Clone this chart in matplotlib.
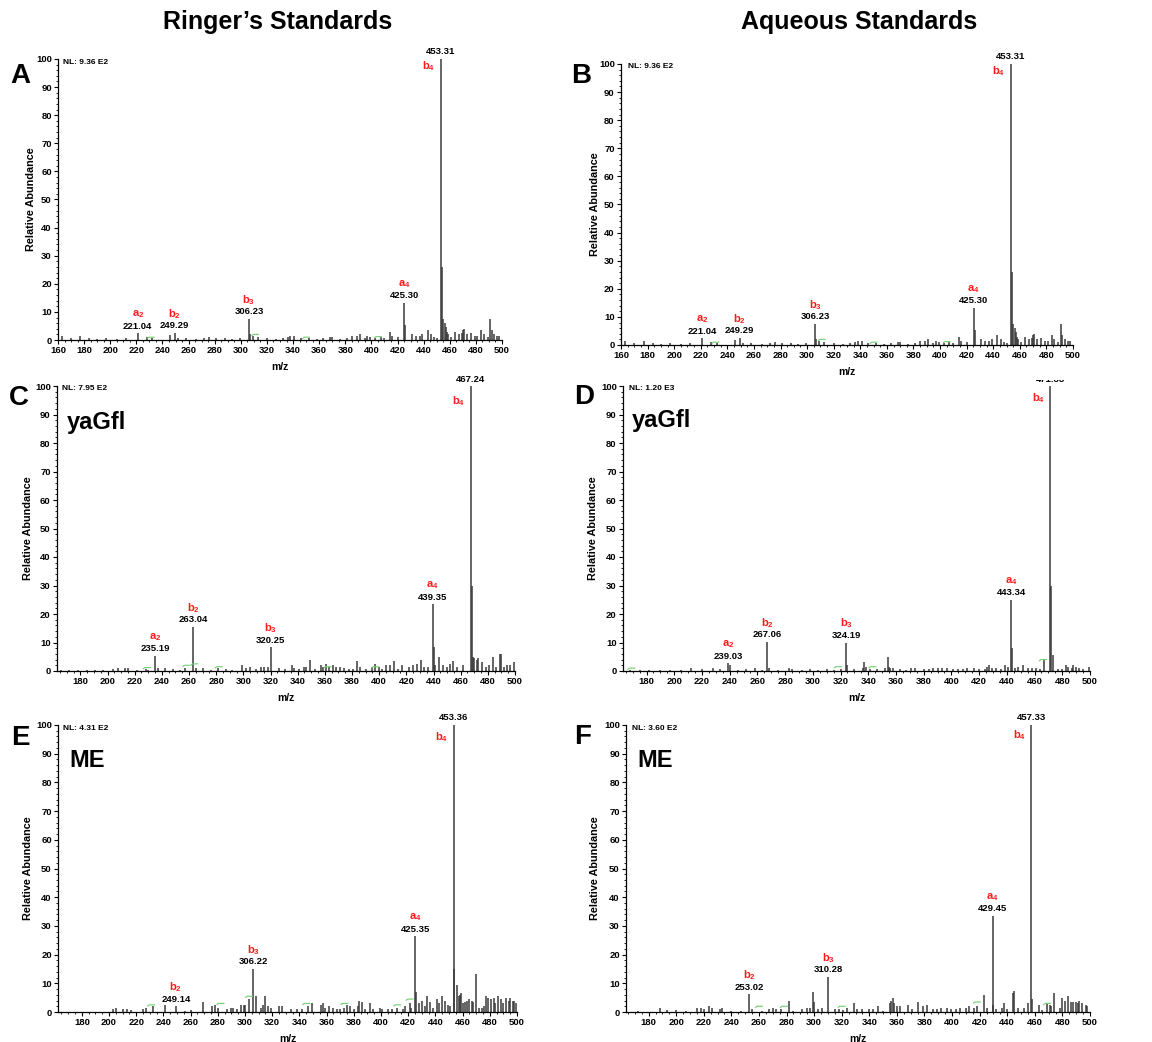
"""Six MS/MS spectra panels (Ringer's vs aqueous standards)."""
import matplotlib
matplotlib.use("Agg")
import matplotlib.pyplot as plt
from matplotlib.ticker import MultipleLocator
from matplotlib.transforms import Bbox

plt.rcParams["font.family"] = ["Liberation Sans", "DejaVu Sans"]
plt.rcParams["font.weight"] = "bold"
plt.rcParams["mathtext.fontset"] = "custom"
plt.rcParams["mathtext.bf"] = "Liberation Sans:bold"
plt.rcParams["mathtext.rm"] = "Liberation Sans:bold"

W, H = 1152, 1042

# ---- spectra (m/z, relative abundance) ------------------------------------
mz_A = [163, 170, 177, 184, 190, 197, 205, 212, 221.04, 228, 232, 246, 249.29, 252, 258, 266, 272, 276,
        281, 288, 293, 299, 306.23, 307, 309, 313, 320, 327, 332, 336, 338, 341, 346, 352, 358, 363,
        368, 370, 376, 381, 385, 389, 391, 395, 397, 399, 403, 407, 410, 414, 416, 420, 425.30, 426,
        431, 434, 437, 439, 443, 446, 448, 450, 453.31, 454, 455, 456, 457, 458, 459, 461, 464, 467,
        469, 470, 471, 473, 476, 479, 481, 484, 486, 489, 491, 492, 494, 496, 498]
int_A = [1.5, 0.6, 1.5, 0.7, 0.5, 0.6, 0.5, 0.6, 2.4, 1.0, 0.6, 1.8, 2.5, 0.7, 0.6, 0.5, 0.8, 1.0,
         0.6, 0.7, 0.5, 0.6, 7.5, 2.0, 1.5, 1.0, 0.6, 0.5, 0.7, 1.0, 1.5, 1.5, 0.6, 0.7, 0.5, 0.6,
         1.0, 1.0, 0.5, 0.6, 1.5, 1.5, 2.2, 0.8, 1.5, 1.0, 0.7, 1.0, 0.8, 3.0, 1.5, 1.0, 13.3, 5.5,
         2.0, 1.5, 1.5, 2.0, 3.5, 2.0, 1.0, 0.8, 100, 26, 7.5, 6.0, 4.5, 3.0, 2.0, 1.2, 3.0, 2.0,
         2.5, 3.5, 4.0, 2.0, 2.5, 1.5, 1.5, 3.5, 2.0, 1.0, 7.5, 3.5, 2.0, 1.5, 1.5]
# panel B shows the same spectrum
mz_B = mz_A
int_B = int_A

mz_C = [166, 172, 178, 185, 191, 197, 204, 208, 213, 215, 222, 228, 230, 235.19, 237, 242, 248, 253,
        257, 263.04, 265, 270, 276, 281, 287, 292, 299, 302, 305, 309, 313, 315, 318, 320.25, 326,
        331, 336, 337, 341, 345, 346, 349, 353, 357, 359, 361, 363, 366, 368, 371, 374, 378, 381,
        384, 386, 390, 395, 397, 400, 402, 405, 408, 411, 414, 417, 422, 425, 428, 431, 433, 436,
        439.35, 440, 441, 444, 447, 450, 452, 454, 457, 462, 467.24, 468, 469, 470, 472, 473, 476,
        479, 481, 484, 486, 489, 490, 492, 494, 496, 499]
int_C = [0.4, 0.3, 0.5, 0.4, 0.5, 0.3, 0.7, 1.0, 1.0, 1.0, 0.5, 0.8, 0.5, 5.4, 1.0, 1.0, 0.8, 0.5,
         1.0, 15.5, 1.0, 1.0, 0.5, 1.0, 0.6, 0.5, 2.0, 1.0, 1.5, 0.6, 1.5, 1.5, 1.5, 8.3, 1.0,
         0.6, 2.0, 1.0, 0.6, 1.5, 1.5, 4.0, 0.8, 2.0, 1.5, 2.5, 1.5, 2.0, 1.5, 1.5, 1.0, 0.6, 0.8,
         3.5, 1.5, 0.7, 1.5, 2.5, 1.5, 0.8, 2.0, 2.0, 3.5, 0.8, 2.0, 1.5, 2.0, 2.5, 4.0, 1.5, 1.5,
         23.5, 8.5, 2.0, 5.0, 2.0, 1.5, 2.5, 3.5, 1.5, 2.0, 100, 30, 5.0, 4.5, 4.0, 4.5, 3.0,
         1.5, 2.0, 5.0, 1.5, 6.0, 6.0, 1.5, 2.0, 2.0, 3.0]

mz_D = [168, 175, 182, 190, 197, 205, 212, 220, 228, 233, 239.03, 240, 246, 252, 258, 263, 267.06,
        268, 275, 283, 285, 292, 298, 304, 310, 315, 320, 324.19, 325, 330, 336, 337, 338, 341, 346,
        352, 354, 355, 356, 358, 363, 367, 371, 374, 380, 384, 387, 390, 393, 397, 401, 405, 408,
        411, 416, 420, 424, 426, 427, 429, 432, 436, 439, 441, 443.34, 444, 446, 448, 452, 455, 458,
        461, 464, 467, 471.33, 472, 473, 477, 480, 483, 484, 487, 488, 490, 492, 495, 499]
int_D = [0.5, 0.3, 0.4, 0.5, 0.4, 0.5, 1.0, 0.6, 1.2, 0.6, 2.7, 2.0, 0.5, 0.8, 1.2, 0.5, 10.3,
         1.0, 0.5, 1.2, 0.8, 0.5, 0.7, 0.5, 0.6, 0.5, 0.6, 10.0, 2.0, 0.6, 1.0, 3.2, 1.5, 0.8, 0.6,
         1.0, 4.8, 1.5, 1.0, 1.0, 0.6, 0.5, 1.2, 1.0, 0.8, 0.6, 1.0, 1.0, 1.0, 1.0, 0.6, 0.8, 0.6,
         1.0, 1.0, 0.8, 0.6, 1.5, 2.0, 1.0, 1.0, 0.6, 2.0, 1.5, 25.0, 8.0, 1.0, 1.5, 2.0, 1.0, 1.2,
         1.0, 0.8, 3.9, 100, 30, 5.5, 0.6, 0.8, 2.0, 1.5, 1.2, 2.0, 1.5, 1.0, 0.6, 1.5]

mz_E = [203, 205, 210, 213, 216, 225, 227, 232, 241, 249.14, 256, 260, 269, 276, 278, 280, 287, 290,
        291, 294, 297, 299, 300, 303, 306.22, 308, 312, 313, 315, 317, 319, 325, 327, 334, 338, 342,
        346, 349, 356, 357, 359, 362, 365, 368, 370, 373, 375, 377, 380, 383, 384, 386, 388, 392,
        394, 399, 401, 405, 408, 412, 416, 418, 421, 422, 425.35, 426, 428, 430, 432, 434, 436, 438,
        441, 443, 445, 447, 449, 451, 453.36, 454, 456, 457, 458, 459, 460, 462, 463, 465, 467, 468,
        470, 472, 474, 476, 477, 479, 481, 483, 484, 486, 488, 490, 492, 494, 495, 497, 498, 499]
int_E = [1.2, 1.3, 1.0, 1.0, 0.7, 1.2, 1.5, 2.0, 2.5, 2.0, 0.5, 0.8, 3.5, 2.0, 2.5, 1.5, 1.0, 1.5,
         1.5, 1.0, 2.5, 2.5, 2.5, 4.5, 15.1, 5.5, 1.5, 2.5, 5.5, 2.0, 1.5, 2.0, 2.0, 1.0, 1.0, 1.0,
         2.0, 3.0, 2.5, 3.0, 1.5, 2.0, 1.5, 1.0, 1.0, 1.5, 2.5, 2.0, 1.0, 2.0, 4.0, 3.5, 1.0, 3.0,
         1.0, 1.5, 1.0, 1.0, 1.0, 1.5, 1.0, 2.0, 3.0, 1.5, 26.4, 7.0, 3.0, 4.0, 2.0, 5.5, 3.5, 1.5,
         4.5, 3.0, 5.5, 4.0, 2.5, 2.0, 100, 15.0, 9.3, 5.5, 6.0, 6.5, 3.0, 3.5, 4.0, 4.5, 4.0, 3.5,
         13.4, 1.5, 1.5, 2.0, 5.5, 5.0, 4.5, 5.0, 3.0, 5.5, 4.5, 3.0, 5.0, 4.0, 5.0, 4.0, 4.0, 3.0]

mz_F = [172, 188, 193, 200, 207, 215, 218, 220, 224, 226, 232, 233, 240, 247, 253.02, 255, 262, 267,
        270, 272, 276, 282, 285, 291, 295, 297, 299, 300, 303, 306, 310.28, 315, 318, 321, 324, 329,
        331, 335, 340, 343, 346, 350, 355, 356, 357, 358, 360, 362, 368, 371, 375, 379, 382, 386,
        389, 392, 396, 399, 403, 406, 410, 412, 416, 418, 423, 425, 429.45, 430, 432, 436, 438, 440,
        444, 445, 448, 452, 455, 457.33, 458, 463, 465, 469, 471, 472, 474, 478, 480, 482, 484, 486,
        488, 490, 491, 492, 494, 497, 498]
int_F = [0.4, 1.5, 0.8, 0.8, 0.4, 1.5, 1.5, 1.0, 2.0, 1.5, 1.0, 1.3, 0.4, 0.5, 6.2, 1.0, 0.5, 1.0,
         1.5, 1.0, 1.0, 4.0, 0.5, 1.0, 1.5, 1.5, 7.0, 3.5, 1.0, 1.5, 12.2, 1.0, 1.0, 0.8, 1.5, 3.0,
         1.0, 1.0, 1.0, 1.0, 2.0, 0.5, 3.0, 4.0, 5.0, 3.0, 2.0, 2.0, 2.5, 1.0, 3.5, 2.0, 2.5, 1.0,
         1.0, 1.5, 1.5, 1.0, 1.0, 1.5, 1.5, 2.0, 1.5, 2.0, 6.0, 1.5, 33.5, 2.5, 1.0, 1.5, 3.0, 1.0,
         6.7, 7.2, 1.5, 1.5, 3.0, 100, 4.5, 2.5, 0.8, 3.0, 2.5, 2.0, 6.5, 1.5, 5.0, 4.0, 5.5, 3.5,
         3.5, 3.5, 3.0, 4.0, 3.0, 2.5, 2.0]

# ---- labelled fragment ions -----------------------------------------------
lab_A = [221.04, 249.29, 306.23, 425.30, 453.31]
ion_A = ["a", "b", "b", "a", "b"]
sub_A = ["2", "2", "3", "4", "4"]
lab_B, ion_B, sub_B = lab_A, ion_A, sub_A
lab_C = [235.19, 263.04, 320.25, 439.35, 467.24]
ion_C = ["a", "b", "b", "a", "b"]
sub_C = ["2", "2", "3", "4", "4"]
lab_D = [239.03, 267.06, 324.19, 443.34, 471.33]
ion_D = ["a", "b", "b", "a", "b"]
sub_D = ["2", "2", "3", "4", "4"]
lab_E = [249.14, 306.22, 425.35, 453.36]
ion_E = ["b", "b", "a", "b"]
sub_E = ["2", "3", "4", "4"]
lab_F = [253.02, 310.28, 429.45, 457.33]
ion_F = ["b", "b", "a", "b"]
sub_F = ["2", "3", "4", "4"]

# small green isotope markers (m/z, height)
grn_A = [(231, 1.0), (311, 2.0), (350, 1.0), (405, 1.2)]
grn_C = [(229, 1.2), (258, 2.0), (264, 2.5), (282, 1.5), (362, 1.5), (397, 1.5)]
grn_D = [(169, 1.0), (318, 1.5), (343, 1.5), (466, 4.0)]
grn_E = [(231, 2.5), (282, 3.0), (303, 5.5), (345, 3.0), (373, 3.0), (412, 2.5), (421, 4.5)]
grn_F = [(260, 2.0), (278, 2.0), (320, 2.0), (418, 3.5), (469, 3.0)]

NL = {"A": "NL: 9.36 E2", "B": "NL: 9.36 E2", "C": "NL: 7.95 E2",
      "D": "NL: 1.20 E3", "E": "NL: 4.31 E2", "F": "NL: 3.60 E2"}
PEPTIDE = {"C": "yaGfl", "D": "yaGfl", "E": "ME", "F": "ME"}

# axes boxes in pixels: left, right, top, bottom ; xmin ; base-ion label drop (px)
PANELS = {
    "A": dict(box=(58, 502, 59, 340), xmin=160, drop=7, mz=mz_A, it=int_A, lab=lab_A, ion=ion_A, sub=sub_A, grn=grn_A),
    "B": dict(box=(621, 1073, 64, 345), xmin=160, drop=7, mz=mz_B, it=int_B, lab=lab_B, ion=ion_B, sub=sub_B, grn=grn_A),
    "C": dict(box=(57, 515, 386, 671), xmin=162.8, drop=15, mz=mz_C, it=int_C, lab=lab_C, ion=ion_C, sub=sub_C, grn=grn_C),
    "D": dict(box=(623, 1090, 386, 671), xmin=163, drop=12, mz=mz_D, it=int_D, lab=lab_D, ion=ion_D, sub=sub_D, grn=grn_D),
    "E": dict(box=(58, 517, 725, 1012), xmin=162.5, drop=12, mz=mz_E, it=int_E, lab=lab_E, ion=ion_E, sub=sub_E, grn=grn_E),
    "F": dict(box=(626, 1090, 725, 1012), xmin=163.6, drop=10, mz=mz_F, it=int_F, lab=lab_F, ion=ion_F, sub=sub_F, grn=grn_F),
}
LETTER_XY = {"A": (20, 76), "B": (581, 76), "C": (19, 398), "D": (584, 397), "E": (20, 738), "F": (583, 737)}
NL_XY = {"A": (63, 62), "B": (628, 67), "C": (62, 389), "D": (629, 389), "E": (63, 729), "F": (632, 729)}
PEP_XY = {"C": (67, 429), "D": (632, 427), "E": (69, 767), "F": (637, 767)}
YLAB_X = {"A": 36, "B": 600, "C": 33, "D": 598, "E": 33, "F": 600}

RED = "#ff1a1a"
STICK = "#3a3a3a"


def fx(px):
    return px / W


def fy(py):
    return 1 - py / H


fig = plt.figure(figsize=(W / 100, H / 100), dpi=100)

for key, p in PANELS.items():
    l, r, t, b = p["box"]
    assert len(p["mz"]) == len(p["it"]), key
    ax = fig.add_axes([fx(l), fy(b), (r - l) / W, (b - t) / H])
    ax.vlines(p["mz"], 0, p["it"], color=STICK, lw=1.1)
    for gx, gy in p["grn"]:
        ax.plot([gx - 2.5, gx - 1.5, gx + 2.5], [gy - 0.4, gy, gy], color="#6fcf6f", lw=0.8)
    ax.set_xlim(p["xmin"], 500)
    ax.set_ylim(0, 100)
    for s in ("top", "right"):
        ax.spines[s].set_visible(False)
    for s in ("left", "bottom"):
        ax.spines[s].set_linewidth(0.9)
    ax.xaxis.set_major_locator(MultipleLocator(20))
    ax.xaxis.set_minor_locator(MultipleLocator(5))
    ax.yaxis.set_major_locator(MultipleLocator(10))
    ax.yaxis.set_minor_locator(MultipleLocator(2))
    ax.tick_params(which="major", length=3, width=0.8, labelsize=6.8, pad=1.5)
    ax.tick_params(which="minor", length=1.6, width=0.6)
    ax.set_xlabel("m/z", fontsize=7.5, fontweight="bold")
    ax.xaxis.set_label_coords(0.5, -22 / (b - t))
    ax.set_ylabel("Relative Abundance", fontsize=7.8, fontweight="bold")
    ax.yaxis.set_label_coords((YLAB_X[key] - l) / (r - l), 0.5)

    # peak annotations
    for m, ion, sb in zip(p["lab"], p["ion"], p["sub"]):
        i = min(range(len(p["mz"])), key=lambda k: abs(p["mz"][k] - m))
        h = p["it"][i]
        num = ax.annotate(f"{m:.2f}", (m, h), xytext=(0, 7), textcoords="offset pixels",
                          ha="center", va="center", fontsize=6.8, annotation_clip=False)
        red = rf"$\mathbf{{{ion}}}_\mathbf{{{sb}}}$"
        if h >= 99:
            ax.annotate(red, (m, h), xytext=(-12, -p["drop"]), textcoords="offset pixels",
                        ha="center", va="center", fontsize=8, color=RED, annotation_clip=False)
            if key == "D":
                # top of the base-peak label is cut off in the original figure
                num.set_clip_box(Bbox.from_extents(0, 0, W, H - 380))
                num.set_clip_on(True)
        else:
            ax.annotate(red, (m, h), xytext=(0, 19), textcoords="offset pixels",
                        ha="center", va="center", fontsize=8, color=RED, annotation_clip=False)

    lx, ly = LETTER_XY[key]
    fig.text(fx(lx), fy(ly), key, fontsize=20, ha="center", va="center")
    nx, ny = NL_XY[key]
    fig.text(fx(nx), fy(ny), NL[key], fontsize=6, ha="left", va="center")
    if key in PEPTIDE:
        qx, qy = PEP_XY[key]
        fig.text(fx(qx), fy(qy), PEPTIDE[key], fontsize=17, ha="left", va="baseline")

fig.text(fx(278), fy(22), "Ringer\u2019s Standards", fontsize=18, ha="center", va="center")
fig.text(fx(859), fy(22), "Aqueous Standards", fontsize=18, ha="center", va="center")

fig.savefig("out.png", dpi=100)
